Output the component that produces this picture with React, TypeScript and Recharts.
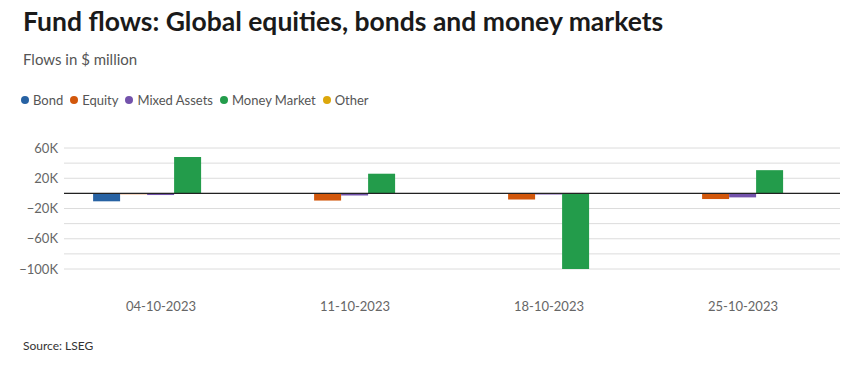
import React from 'react';
import { BarChart, Bar, XAxis, YAxis, CartesianGrid, ReferenceLine } from 'recharts';

const weeks = ['04-10-2023', '11-10-2023', '18-10-2023', '25-10-2023'];
const bond = [-10500, 400, 300, -600];
const equity = [-1200, -9500, -8200, -7500];
const mixedAssets = [-2200, -2800, -1500, -5300];
const moneyMarket = [48000, 26000, -100000, 30700];
const other = [300, 200, 300, 200];

const yTicks = [-100000, -80000, -60000, -40000, -20000, 0, 20000, 40000, 60000];
const labelledTicks = [-100000, -60000, -20000, 20000, 60000];

const SERIES = [
  { key: 'bond', name: 'Bond', color: '#2762a3' },
  { key: 'equity', name: 'Equity', color: '#d2570b' },
  { key: 'mixed', name: 'Mixed Assets', color: '#7352ab' },
  { key: 'money', name: 'Money Market', color: '#239c4b' },
  { key: 'other', name: 'Other', color: '#dca70b' },
];

const data = weeks.map((week, i) => ({
  week,
  bond: bond[i],
  equity: equity[i],
  mixed: mixedAssets[i],
  money: moneyMarket[i],
  other: other[i],
}));

const FONT = 'Lato, "Noto Sans", sans-serif';

const formatTick = (v: number) => {
  if (!labelledTicks.includes(v)) return '';
  const k = Math.abs(v) / 1000;
  return (v < 0 ? '\u2212' : '') + k + 'K';
};

export default function App() {
  return (
    <div style={{ position: 'absolute', left: 0, top: 0, width: 858, height: 381, background: '#fff', fontFamily: FONT }}>
      <div style={{ position: 'absolute', left: 23, top: 5, fontSize: 26.5, fontWeight: 700, color: '#1a1a1a', whiteSpace: 'nowrap' }}>
        Fund flows: Global equities, bonds and money markets
      </div>
      <div style={{ position: 'absolute', left: 23, top: 50, fontSize: 15, color: '#555' }}>
        Flows in $ million
      </div>
      <div style={{ position: 'absolute', left: 21, top: 92, display: 'flex', fontSize: 13, color: '#555', whiteSpace: 'nowrap' }}>
        {SERIES.map(s => (
          <div key={s.key} style={{ display: 'flex', alignItems: 'center', marginRight: 7 }}>
            <span style={{ width: 8, height: 8, borderRadius: 4, background: s.color, display: 'inline-block', marginRight: 4 }} />
            {s.name}
          </div>
        ))}
      </div>
      <div style={{ position: 'absolute', left: 0, top: 130 }}>
        <BarChart
          width={858}
          height={200}
          data={data}
          margin={{ top: 18, right: 18, bottom: 16, left: 0 }}
          barCategoryGap="15%"
          barGap={0}
        >
          <CartesianGrid vertical={false} stroke="#dcdcdc" strokeWidth={1} />
          <XAxis
            dataKey="week"
            axisLine={false}
            tickLine={false}
            tickSize={0}
            tickMargin={33}
            height={45}
            tick={{ fill: '#666', fontSize: 13, fontFamily: FONT }}
          />
          <YAxis
            domain={[-100000, 60000]}
            ticks={yTicks}
            interval={0}
            tickFormatter={formatTick}
            axisLine={false}
            tickLine={false}
            tickSize={0}
            tickMargin={6}
            width={64}
            tick={{ fill: '#666', fontSize: 13, fontFamily: FONT }}
          />
          {SERIES.map(s => (
            <Bar key={s.key} dataKey={s.key} name={s.name} fill={s.color} isAnimationActive={false} />
          ))}
          <ReferenceLine y={0} stroke="#222" strokeWidth={1.2} />
        </BarChart>
      </div>
      <div style={{ position: 'absolute', left: 23, top: 338, fontSize: 12, color: '#333' }}>
        Source: LSEG
      </div>
    </div>
  );
}
